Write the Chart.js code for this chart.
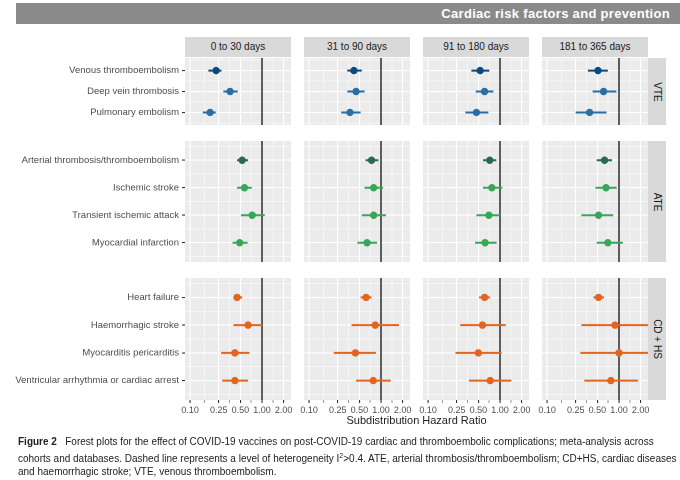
<!DOCTYPE html>
<html><head><meta charset="utf-8">
<script src="https://cdn.jsdelivr.net/npm/chart.js@4"></script>
<style>
body{margin:0;width:680px;height:480px;background:#fff;font-family:Arial,"Liberation Sans",sans-serif;position:relative;overflow:hidden}
.abs{position:absolute}
.bar{left:16px;top:3px;width:664px;height:21px;background:#8a8a8a;color:#fff;font-weight:bold;font-size:13px;text-align:right;line-height:21px;box-sizing:border-box;padding-right:10px;letter-spacing:0.3px}
.colstrip{background:#d9d9d9;color:#1a1a1a;font-size:10px;text-align:center;line-height:20px;height:20px;width:106px;top:37px}
.rowstrip{background:#d9d9d9;width:18px;left:648px}
.rowstrip span{position:absolute;left:50%;top:50%;transform:translate(-50%,-50%) rotate(90deg);font-size:10px;white-space:nowrap;color:#1a1a1a}
.cap{left:18px;top:435px;width:660px;font-size:10px;line-height:13.5px;color:#222}
</style></head><body>
<div class="abs bar">Cardiac risk factors and prevention</div>
<div id="root"></div>
<div class="abs" style="left:185px;top:414px;width:463px;text-align:center;font-size:11px;color:#222">Subdistribution Hazard Ratio</div>
<div class="abs cap"><b>Figure 2</b>&nbsp;&nbsp;&nbsp;Forest plots for the effect of COVID-19 vaccines on post-COVID-19 cardiac and thromboembolic complications; meta-analysis across cohorts and databases. Dashed line represents a level of heterogeneity I<sup style="font-size:7px">2</sup>&gt;0.4. ATE, arterial thrombosis/thromboembolism; CD+HS, cardiac diseases and haemorrhagic stroke; VTE, venous thromboembolism.</div>
<script>
const periods = ['0 to 30 days', '31 to 90 days', '91 to 180 days', '181 to 365 days']
const groups = ['VTE', 'ATE', 'CD + HS']
const xTicks = [0.10, 0.25, 0.50, 1.00, 2.00]

const vteLabels = ['Venous thromboembolism', 'Deep vein thrombosis', 'Pulmonary embolism']
const vteEst = [[0.23, 0.36, 0.19], [0.42, 0.45, 0.37], [0.53, 0.61, 0.47], [0.51, 0.61, 0.39]]
const vteLo = [[0.18, 0.29, 0.15], [0.34, 0.34, 0.28], [0.40, 0.46, 0.33], [0.37, 0.43, 0.25]]
const vteHi = [[0.29, 0.46, 0.25], [0.54, 0.59, 0.52], [0.71, 0.81, 0.69], [0.70, 0.92, 0.67]]
const vteDashed = [[true, false, true], [false, false, false], [false, false, false], [false, false, false]]

const ateLabels = ['Arterial thrombosis/thromboembolism', 'Ischemic stroke', 'Transient ischemic attack', 'Myocardial infarction']
const ateEst = [[0.53, 0.57, 0.73, 0.49], [0.74, 0.79, 0.79, 0.64], [0.72, 0.77, 0.70, 0.62], [0.63, 0.66, 0.52, 0.70]]
const ateLo = [[0.45, 0.45, 0.51, 0.39], [0.61, 0.59, 0.54, 0.47], [0.58, 0.58, 0.47, 0.45], [0.49, 0.47, 0.30, 0.49]]
const ateHi = [[0.64, 0.72, 1.09, 0.63], [0.92, 1.07, 1.17, 0.88], [0.89, 1.08, 1.00, 0.90], [0.80, 0.93, 0.83, 1.13]]

const cdLabels = ['Heart failure', 'Haemorrhagic stroke', 'Myocarditis pericarditis', 'Ventricular arrhythmia or cardiac arrest']
const cdEst = [[0.45, 0.64, 0.42, 0.42], [0.62, 0.83, 0.44, 0.78], [0.61, 0.57, 0.50, 0.73], [0.52, 0.88, 1.00, 0.77]]
const cdLo = [[0.40, 0.40, 0.27, 0.28], [0.52, 0.39, 0.22, 0.45], [0.51, 0.28, 0.24, 0.37], [0.44, 0.30, 0.29, 0.33]]
const cdHi = [[0.53, 1.00, 0.67, 0.64], [0.74, 1.78, 0.85, 1.36], [0.73, 1.20, 1.05, 1.44], [0.62, 3.00, 3.00, 1.84]]

const groupData = [
  { labels: vteLabels, est: vteEst, lo: vteLo, hi: vteHi, dashed: vteDashed, colors: ['#0c4a7d', '#2a6ea6', '#2a6ea6'] },
  { labels: ateLabels, est: ateEst, lo: ateLo, hi: ateHi, colors: ['#2a6a4e', '#3aa659', '#3aa659', '#3aa659'] },
  { labels: cdLabels, est: cdEst, lo: cdLo, hi: cdHi, colors: ['#e3661e', '#e3661e', '#e3661e', '#e3661e'] },
]

const colLeft = [185, 304, 423, 542], colW = 106
const rowTop = [58, 141, 278], rowH = [67, 121, 122]
const rowPad = [0.6, 0.7, 0.7]
const yAxisW = 185, xAxisH = 16, sidePad = 10

const panelBg = {
  id: 'panelBg',
  beforeDraw(chart) {
    const a = chart.chartArea, c = chart.ctx
    c.save(); c.fillStyle = '#ebebeb'; c.fillRect(a.left, a.top, a.right - a.left, a.bottom - a.top); c.restore()
  }
}

const root = document.getElementById('root')
periods.forEach((p, ci) => {
  const d = document.createElement('div')
  d.className = 'abs colstrip'; d.style.left = colLeft[ci] + 'px'; d.textContent = p
  root.appendChild(d)
})
groups.forEach((g, ri) => {
  const d = document.createElement('div')
  d.className = 'abs rowstrip'; d.style.top = rowTop[ri] + 'px'; d.style.height = rowH[ri] + 'px'
  d.innerHTML = '<span>' + g + '</span>'
  root.appendChild(d)
})

const minorTicks = []
for (let i = 0; i < xTicks.length - 1; i++) minorTicks.push(Math.sqrt(xTicks[i] * xTicks[i + 1]))

groupData.forEach((g, ri) => {
  periods.forEach((p, ci) => {
    const first = ci === 0, bottom = ri === 2
    const padL = first ? 0 : (bottom ? sidePad : 0)
    const padR = bottom ? sidePad : 0
    const left = (first ? colLeft[ci] - yAxisW : colLeft[ci]) - padL
    const w = (first ? colW + yAxisW : colW) + padL + padR
    const h = bottom ? rowH[ri] + xAxisH : rowH[ri]
    const cv = document.createElement('canvas')
    cv.className = 'abs'; cv.style.left = left + 'px'; cv.style.top = rowTop[ri] + 'px'
    cv.width = w; cv.height = h; cv.style.width = w + 'px'; cv.style.height = h + 'px'
    root.appendChild(cv)
    const n = g.labels.length
    const datasets = []
    g.labels.forEach((lab, k) => {
      datasets.push({
        type: 'scatter', showLine: true, data: [{ x: g.lo[ci][k], y: k }, { x: g.hi[ci][k], y: k }],
        borderColor: g.colors[k], borderWidth: 2, pointRadius: 0,
        borderDash: g.dashed && g.dashed[ci][k] ? [4, 5] : []
      })
    })
    datasets.push({
      type: 'scatter', data: g.est[ci].map((v, k) => ({ x: v, y: k })),
      pointBackgroundColor: g.colors, pointBorderColor: g.colors, pointRadius: 3.2
    })
    datasets.push({
      type: 'scatter', showLine: true, data: [{ x: 1, y: -2 }, { x: 1, y: n + 2 }],
      borderColor: '#111', borderWidth: 1.3, pointRadius: 0
    })
    new Chart(cv.getContext('2d'), {
      data: { datasets },
      options: {
        responsive: false, animation: false, devicePixelRatio: 2,
        layout: { padding: { left: padL, right: padR, top: 0, bottom: 0 }, autoPadding: false },
        plugins: { legend: { display: false }, tooltip: { enabled: false } },
        scales: {
          x: {
            type: 'logarithmic', min: 0.085, max: 2.53,
            afterBuildTicks(ax) { ax.ticks = xTicks.concat(minorTicks).map(v => ({ value: v, major: xTicks.includes(v) })) },
            afterFit(ax) { ax.height = bottom ? xAxisH : 0; ax.paddingLeft = 0; ax.paddingRight = 0 },
            ticks: {
              display: bottom, autoSkip: false, maxRotation: 0, padding: 2, color: '#4d4d4d', font: { size: 9 },
              callback: (v) => xTicks.includes(v) ? v.toFixed(2) : ''
            },
            grid: {
              color: '#ffffff', lineWidth: (c) => (c.tick && c.tick.major ? 1.1 : 0.5),
              drawTicks: bottom, tickLength: 3, tickColor: '#333'
            },
            border: { display: false }
          },
          y: {
            type: 'linear', reverse: true, min: -rowPad[ri], max: n - 1 + rowPad[ri],
            afterBuildTicks(ax) {
              const t = []
              for (let k = -0.5; k <= n - 0.5; k += 0.5) t.push({ value: k })
              ax.ticks = t
            },
            afterFit(ax) { ax.width = first ? yAxisW : 0; ax.paddingTop = 0; ax.paddingBottom = 0 },
            ticks: {
              display: first, autoSkip: false, padding: 3, color: '#4d4d4d', font: { size: 9.5 },
              callback: (v) => Number.isInteger(v) && v >= 0 ? g.labels[v] : ''
            },
            grid: {
              color: '#ffffff', lineWidth: (c) => (c.tick && Number.isInteger(c.tick.value) ? 1.1 : 0.5),
              drawTicks: first, tickLength: 3, tickColor: (c) => (c.tick && Number.isInteger(c.tick.value) ? '#333' : 'rgba(0,0,0,0)')
            },
            border: { display: false }
          }
        }
      },
      plugins: [panelBg]
    })
  })
})
</script>
</body></html>
